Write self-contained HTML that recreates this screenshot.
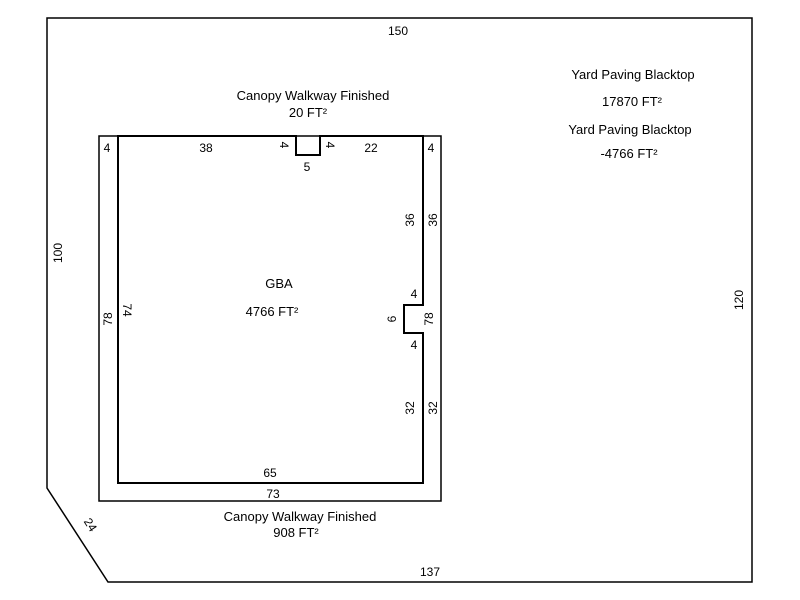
<!DOCTYPE html>
<html><head><style>body{margin:0;background:#fff}svg{display:block}text{font-family:"Liberation Sans",sans-serif;font-size:12px;fill:#000}.l{font-size:13px}</style></head>
<body>
<svg width="800" height="600" xmlns="http://www.w3.org/2000/svg">
<rect width="800" height="600" fill="#fff"/>
<polygon points="47,18 752,18 752,582 108,582 47,488" fill="none" stroke="#000" stroke-width="1.5"/>
<rect x="99" y="136" width="342" height="365" fill="none" stroke="#000" stroke-width="1.5"/>
<polygon points="118,136 296,136 296,155 320,155 320,136 423,136 423,305 404,305 404,333 423,333 423,483 118,483" fill="none" stroke="#000" stroke-width="2"/>
<g text-anchor="middle">
<text x="398" y="35">150</text>
<text x="430" y="576">137</text>
<text class="l" x="313" y="100">Canopy Walkway Finished</text>
<text class="l" x="308" y="117">20 FT²</text>
<text class="l" x="300" y="521">Canopy Walkway Finished</text>
<text class="l" x="296" y="537">908 FT²</text>
<text class="l" x="633" y="79">Yard Paving Blacktop</text>
<text class="l" x="632" y="106">17870 FT²</text>
<text class="l" x="630" y="134">Yard Paving Blacktop</text>
<text class="l" x="629" y="158">-4766 FT²</text>
<text class="l" x="279" y="288">GBA</text>
<text class="l" x="272" y="316">4766 FT²</text>
<text x="107" y="152">4</text>
<text x="206" y="152">38</text>
<text x="371" y="152">22</text>
<text x="431" y="152">4</text>
<text x="307" y="171">5</text>
<text x="270" y="477">65</text>
<text x="273" y="498">73</text>
<text x="414" y="298">4</text>
<text x="414" y="349">4</text>
<text transform="translate(62,253) rotate(-90)">100</text>
<text transform="translate(743,300) rotate(-90)">120</text>
<text transform="translate(112,319) rotate(-90)">78</text>
<text transform="translate(123,310) rotate(90)">74</text>
<text transform="translate(414,220) rotate(-90)">36</text>
<text transform="translate(437,220) rotate(-90)">36</text>
<text transform="translate(414,408) rotate(-90)">32</text>
<text transform="translate(437,408) rotate(-90)">32</text>
<text transform="translate(396,319) rotate(-90)">6</text>
<text transform="translate(433,319) rotate(-90)">78</text>
<text transform="translate(280,145) rotate(90)">4</text>
<text transform="translate(326,145) rotate(90)">4</text>
<text transform="translate(87,527) rotate(57)">24</text>
</g>
</svg>
</body></html>
